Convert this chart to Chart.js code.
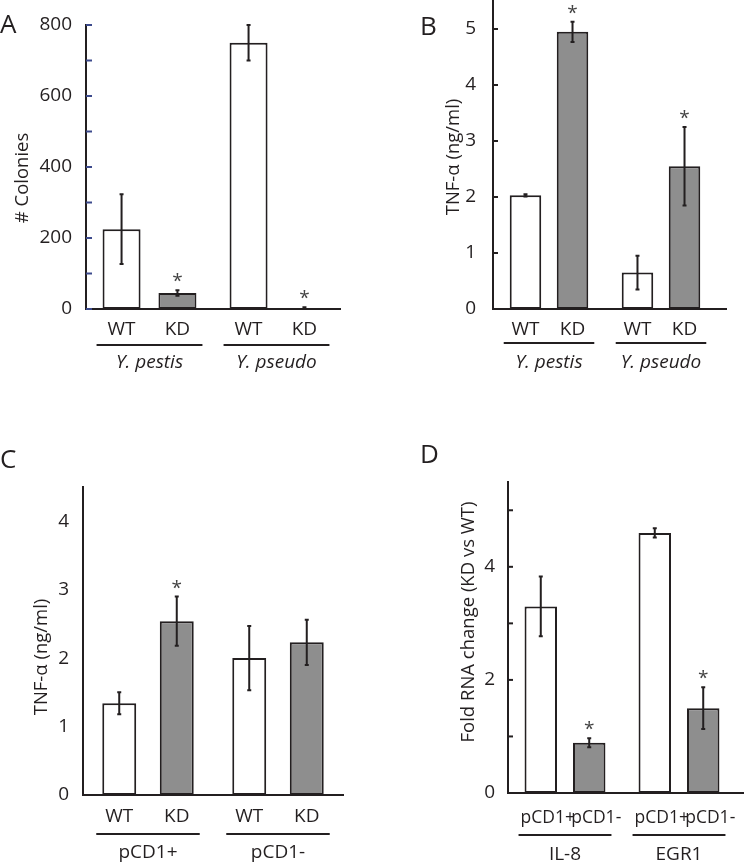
<!DOCTYPE html>
<html>
<head>
<meta charset="utf-8">
<script src="https://cdn.jsdelivr.net/npm/chart.js@4"></script>
<style>
  body { margin: 0; background: #fff; }
  canvas { position: absolute; }
</style>
</head>
<body>
<canvas id="chartA" width="372" height="430" style="left:0;top:0"></canvas>
<canvas id="chartB" width="372" height="430" style="left:372px;top:0"></canvas>
<canvas id="chartC" width="372" height="436" style="left:0;top:430px"></canvas>
<canvas id="chartD" width="372" height="436" style="left:372px;top:430px"></canvas>
<script>
// Panel A - colonies
const groupsA = ['Y. pestis', 'Y. pseudo'];
const wtA = [225, 750];
const wtErrA = [98, 50];
const kdA = [45, 3];
const kdErrA = [8, 2];
const kdSigA = [true, true];
const yTicksA = [0, 100, 200, 300, 400, 500, 600, 700, 800];
const yLabelsA = ['0', '', '200', '', '400', '', '600', '', '800'];

// Panel B - TNF-alpha, Yersinia strains
const groupsB = ['Y. pestis', 'Y. pseudo'];
const wtB = [2.03, 0.65];
const wtErrB = [0.02, 0.3];
const kdB = [4.95, 2.55];
const kdErrB = [0.18, 0.7];
const kdSigB = [true, true];
const yTicksB = [0, 1, 2, 3, 4, 5];
const yLabelsB = ['0', '1', '2', '3', '4', '5'];

// Panel C - TNF-alpha, pCD1+/-
const groupsC = ['pCD1+', 'pCD1-'];
const wtC = [1.34, 2.0];
const wtErrC = [0.16, 0.47];
const kdC = [2.54, 2.23];
const kdErrC = [0.36, 0.33];
const kdSigC = [true, false];
const yTicksC = [0, 1, 2, 3, 4];
const yLabelsC = ['0', '1', '2', '3', '4'];

// Panel D - fold RNA change
const groupsD = ['IL-8', 'EGR1'];
const plusD = [3.3, 4.6];
const plusErrD = [0.53, 0.08];
const minusD = [0.89, 1.5];
const minusErrD = [0.08, 0.37];
const minusSigD = [true, true];
const yTicksD = [0, 1, 2, 3, 4, 5];
const yLabelsD = ['0', '', '2', '', '4', ''];

const ink = '#231f20';
const grayFill = '#8e8e8e';
const fontFamily = "'Open Sans', sans-serif";

// draws error bars, stars, sub labels, group lines, titles and panel letter
const annotatePlugin = {
    id: 'annotate',
    afterDraw(chart, args, o) {
        const ctx = chart.ctx;
        const area = chart.chartArea;
        const y = chart.scales.y;
        const x = chart.scales.x;
        ctx.save();

        // baseline (extends past the last bar on some panels)
        ctx.strokeStyle = ink;
        ctx.lineWidth = 2;
        ctx.beginPath();
        ctx.moveTo(area.left - 1, area.bottom);
        ctx.lineTo(o.baselineEnd, area.bottom);
        ctx.stroke();

        // inward ticks on y axis
        if (o.tickLen > 0) {
            ctx.strokeStyle = o.tickColor;
            ctx.lineWidth = 2;
            y.ticks.forEach(t => {
                const py = y.getPixelForValue(t.value);
                ctx.beginPath();
                ctx.moveTo(area.left, py);
                ctx.lineTo(area.left + o.tickLen, py);
                ctx.stroke();
            });
        }

        ctx.fillStyle = ink;
        ctx.textAlign = 'center';
        const bars = [];
        chart.data.datasets.forEach((ds, i) => {
            const meta = chart.getDatasetMeta(i);
            meta.data.forEach((el, j) => {
                bars.push({ el, j });
                // error bar
                const top = y.getPixelForValue(ds.data[j] + ds.errors[j]);
                const bot = y.getPixelForValue(ds.data[j] - ds.errors[j]);
                ctx.strokeStyle = ink;
                ctx.lineWidth = 2;
                ctx.beginPath();
                ctx.moveTo(el.x, top);
                ctx.lineTo(el.x, bot);
                ctx.moveTo(el.x - 2, top);
                ctx.lineTo(el.x + 2, top);
                ctx.moveTo(el.x - 2, bot);
                ctx.lineTo(el.x + 2, bot);
                ctx.stroke();
                // significance star
                if (ds.sig && ds.sig[j]) {
                    ctx.font = '19px ' + fontFamily;
                    ctx.textBaseline = 'alphabetic';
                    ctx.fillStyle = '#444';
                    ctx.fillText('*', el.x, top - 3);
                    ctx.fillStyle = ink;
                }
                // condition label under bar
                ctx.font = o.subFont + 'px ' + fontFamily;
                ctx.textBaseline = 'middle';
                ctx.fillText(ds.label, el.x + (o.subShift || 0), o.subY);
            });
        });

        // group underline and group name
        chart.data.labels.forEach((name, j) => {
            const inGroup = bars.filter(b => b.j === j).map(b => b.el);
            const lo = Math.min(...inGroup.map(e => e.x - e.width / 2)) - 6;
            const hi = Math.max(...inGroup.map(e => e.x + e.width / 2)) + 6;
            ctx.strokeStyle = ink;
            ctx.lineWidth = 2;
            ctx.beginPath();
            ctx.moveTo(lo, o.lineY);
            ctx.lineTo(hi, o.lineY);
            ctx.stroke();
            ctx.font = (o.italic ? 'italic ' : '') + '19px ' + fontFamily;
            ctx.textBaseline = 'middle';
            ctx.fillText(name, x.getPixelForValue(j), o.groupY);
        });

        // y axis title
        ctx.save();
        ctx.translate(o.titleX, o.titleY);
        ctx.rotate(-Math.PI / 2);
        ctx.font = '18.5px ' + fontFamily;
        ctx.textBaseline = 'middle';
        ctx.fillText(o.title, 0, 0);
        ctx.restore();

        // panel letter
        ctx.font = '26px ' + fontFamily;
        ctx.textAlign = 'left';
        ctx.textBaseline = 'alphabetic';
        ctx.fillText(o.letter, o.letterX, o.letterY);

        ctx.restore();
    }
};

function makePanel(id, p) {
    const canvas = document.getElementById(id);
    const W = canvas.width, H = canvas.height;
    return new Chart(canvas.getContext('2d'), {
        type: 'bar',
        data: {
            labels: p.groups,
            datasets: p.series.map((s, i) => ({
                label: s.label,
                data: s.values,
                errors: s.errors,
                sig: s.sig,
                backgroundColor: i === 0 ? '#ffffff' : grayFill,
                borderColor: ink,
                borderWidth: 2,
                borderSkipped: false,
                categoryPercentage: p.cp,
                barPercentage: p.bp
            }))
        },
        options: {
            responsive: false,
            animation: false,
            events: [],
            layout: {
                padding: { left: 0, top: p.area.top, right: W - p.area.right, bottom: 0 }
            },
            plugins: {
                legend: { display: false },
                tooltip: { enabled: false },
                annotate: p.annotate
            },
            scales: {
                x: {
                    grid: { display: false },
                    border: { display: true, color: ink, width: 2 },
                    ticks: { display: false },
                    afterFit(s) {
                        s.height = H - p.area.bottom;
                        s.paddingLeft = 0;
                        s.paddingRight = 0;
                    }
                },
                y: {
                    min: 0,
                    max: p.yMax,
                    grid: { display: false },
                    border: { display: true, color: ink, width: 2 },
                    ticks: {
                        color: ink,
                        padding: p.labelPad,
                        font: { family: fontFamily, size: 19 },
                        callback: (v, i) => p.yLabels[i]
                    },
                    afterBuildTicks(s) {
                        s.ticks = p.yTicks.map(v => ({ value: v }));
                    },
                    afterFit(s) {
                        s.width = p.area.left;
                        s.paddingTop = 0;
                        s.paddingBottom = 0;
                    }
                }
            }
        },
        plugins: [annotatePlugin]
    });
}

makePanel('chartA', {
    groups: groupsA,
    series: [
        { label: 'WT', values: wtA, errors: wtErrA },
        { label: 'KD', values: kdA, errors: kdErrA, sig: kdSigA }
    ],
    yMax: 800, yTicks: yTicksA, yLabels: yLabelsA, labelPad: 6,
    area: { left: 86, top: 25, right: 340, bottom: 309 },
    cp: 0.88, bp: 0.68,
    annotate: {
        baselineEnd: 340, tickLen: 6, tickColor: '#3c4a8c', subFont: 19,
        subY: 330, lineY: 345, groupY: 363, italic: true,
        title: '# Colonies', titleX: 23, titleY: 178,
        letter: 'A', letterX: 0, letterY: 33
    }
});

makePanel('chartB', {
    groups: groupsB,
    series: [
        { label: 'WT', values: wtB, errors: wtErrB },
        { label: 'KD', values: kdB, errors: kdErrB, sig: kdSigB }
    ],
    yMax: 5.5, yTicks: yTicksB, yLabels: yLabelsB, labelPad: 9,
    area: { left: 121, top: 1, right: 345, bottom: 309 },
    cp: 0.84, bp: 0.67,
    annotate: {
        baselineEnd: 355, tickLen: 5, tickColor: ink, subFont: 19,
        subY: 330, lineY: 343, groupY: 363, italic: true,
        title: 'TNF-α (ng/ml)', titleX: 82, titleY: 157,
        letter: 'B', letterX: 48, letterY: 35
    }
});

makePanel('chartC', {
    groups: groupsC,
    series: [
        { label: 'WT', values: wtC, errors: wtErrC },
        { label: 'KD', values: kdC, errors: kdErrC, sig: kdSigC }
    ],
    yMax: 4.5, yTicks: yTicksC, yLabels: yLabelsC, labelPad: 6,
    area: { left: 83, top: 57, right: 343, bottom: 365 },
    cp: 0.885, bp: 0.59,
    annotate: {
        baselineEnd: 343, tickLen: 0, tickColor: ink, subFont: 19,
        subY: 387, lineY: 404, groupY: 423, italic: false,
        title: 'TNF-α (ng/ml)', titleX: 42, titleY: 227,
        letter: 'C', letterX: 0, letterY: 38
    }
});

makePanel('chartD', {
    groups: groupsD,
    series: [
        { label: 'pCD1+', values: plusD, errors: plusErrD },
        { label: 'pCD1-', values: minusD, errors: minusErrD, sig: minusSigD }
    ],
    yMax: 5.5, yTicks: yTicksD, yLabels: yLabelsD, labelPad: 5,
    area: { left: 136, top: 52, right: 364, bottom: 363 },
    cp: 0.85, bp: 0.67,
    annotate: {
        baselineEnd: 372, tickLen: 5, tickColor: ink, subShift: 7, subFont: 17.5,
        subY: 388, lineY: 405, groupY: 425, italic: false,
        title: 'Fold RNA change (KD vs WT)', titleX: 97, titleY: 192,
        letter: 'D', letterX: 48, letterY: 33
    }
});
</script>
</body>
</html>
